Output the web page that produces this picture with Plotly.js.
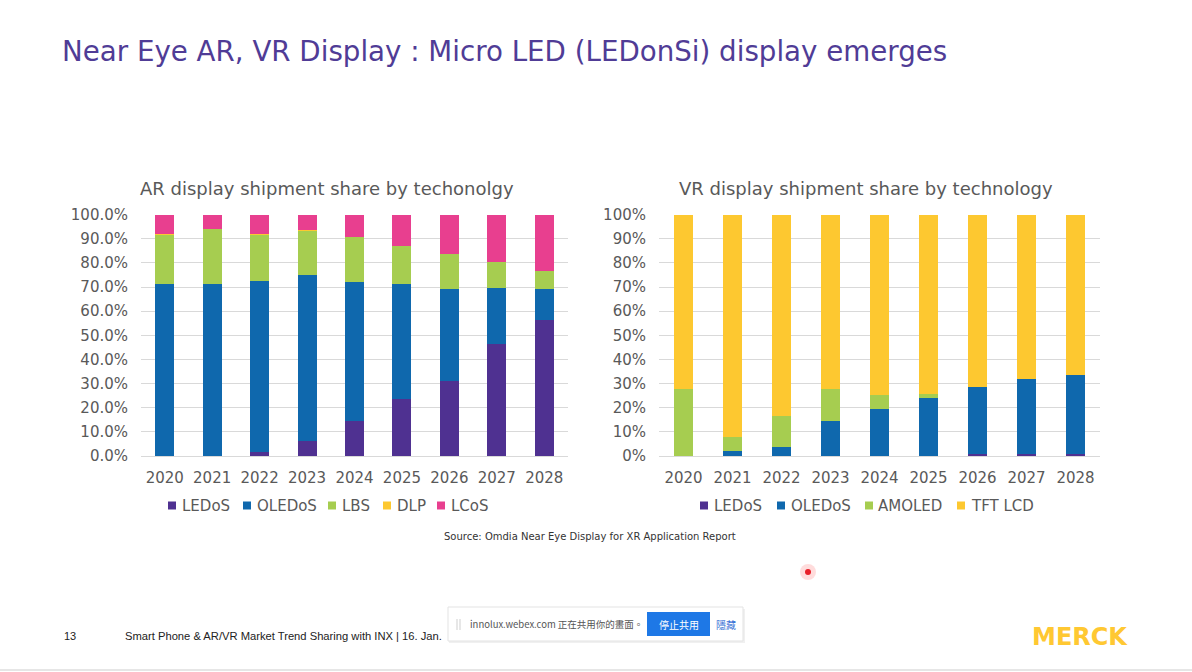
<!DOCTYPE html>
<html>
<head>
<meta charset="utf-8">
<script src="https://cdn.plot.ly/plotly-3.0.1.min.js"></script>
<style>html,body{margin:0;padding:0;background:#fff;}#chart{width:1192px;height:672px;}</style>
</head>
<body>
<div id="chart"></div>
<script>
const years = ["2020","2021","2022","2023","2024","2025","2026","2027","2028"];
const arNames = ["LEDoS","OLEDoS","LBS","DLP","LCoS"];
const vrNames = ["LEDoS","OLEDoS","AMOLED","TFT LCD"];
// AR display shipment share (%)
const arLEDoS  = [0, 0, 1.8, 6.1, 14.6, 23.8, 31.2, 46.5, 56.5];
const arOLEDoS = [71.3, 71.3, 70.7, 68.9, 57.5, 47.5, 37.9, 23.1, 12.7];
const arLBS    = [20.3, 22.6, 19.1, 18.4, 18.6, 15.9, 14.6, 10.8, 7.6];
const arDLP    = [0.3, 0.3, 0.3, 0.2, 0.1, 0, 0, 0, 0];
const arLCoS   = [8.1, 5.8, 8.1, 6.4, 9.2, 12.8, 16.3, 19.6, 23.2];
// VR display shipment share (%)
const vrLEDoS  = [0, 0, 0, 0, 0.1, 0.2, 0.8, 0.9, 0.9];
const vrOLEDoS = [0, 2.2, 3.9, 14.4, 19.5, 24.0, 27.9, 31.0, 32.8];
const vrAMOLED = [27.9, 5.7, 12.7, 13.2, 5.8, 1.6, 0, 0, 0];
const vrTFTLCD = [72.1, 92.1, 83.4, 72.4, 74.6, 74.2, 71.3, 68.1, 66.3];
// tick labels
const tickVals = [0,10,20,30,40,50,60,70,80,90,100];
const arTickText = ["0.0%","10.0%","20.0%","30.0%","40.0%","50.0%","60.0%","70.0%","80.0%","90.0%","100.0%"];
const vrTickText = ["0%","10%","20%","30%","40%","50%","60%","70%","80%","90%","100%"];

const arSeries = [arLEDoS, arOLEDoS, arLBS, arDLP, arLCoS];
const vrSeries = [vrLEDoS, vrOLEDoS, vrAMOLED, vrTFTLCD];

const arColors = ["#4f3191","#0f68ad","#a6cd50","#fdc830","#e83f8f"];
const vrColors = ["#4f3191","#0f68ad","#a6cd50","#fdc830"];
const FONT = "DejaVu Sans, Verdana, sans-serif";

const W = 1192, H = 672;
const px = v => v / W, py = v => 1 - v / H;

const data = [];
arNames.forEach((n,i) => data.push({type:"bar", name:n, x:years, y:arSeries[i], xaxis:"x", yaxis:"y",
  marker:{color:arColors[i], line:{width:0}}, showlegend:false}));
vrNames.forEach((n,i) => data.push({type:"bar", name:n, x:years, y:vrSeries[i], xaxis:"x2", yaxis:"y2",
  marker:{color:vrColors[i], line:{width:0}}, showlegend:false}));

const axX = (dom) => ({domain:dom, type:"category", showgrid:false, zeroline:false,
  showline:true, linecolor:"#d9d9d9", linewidth:1, ticks:"", ticklabelstandoff:8,
  tickfont:{family:FONT, size:15, color:"#595959"}, fixedrange:true});
const axY = (txt, anchor) => ({domain:[py(456), py(214.7)], range:[0,100], anchor:anchor,
  tickmode:"array", tickvals:tickVals, ticktext:txt, ticklabelstandoff:12,
  showgrid:true, gridcolor:"#d9d9d9", gridwidth:1, zeroline:false, showline:false,
  tickfont:{family:FONT, size:15, color:"#595959"}, ticks:"", fixedrange:true});

// legend layout (positions in page pixels)
const arLegendX = [168, 243, 328, 383, 437];
const vrLegendX = [700, 777, 865, 957];
const legendY = 505.5;

const annotations = [
  {text:"Near Eye AR, VR Display : Micro LED (LEDonSi) display emerges", x:px(60), y:py(52),
   xanchor:"left", font:{family:FONT, size:27.7, color:"#503c96"}},
  {text:"AR display shipment share by techonolgy", x:px(138), y:py(188),
   xanchor:"left", font:{family:FONT, size:18, color:"#595959"}},
  {text:"VR display shipment share by technology", x:px(677), y:py(188),
   xanchor:"left", font:{family:FONT, size:18, color:"#595959"}},
  {text:"Source: Omdia Near Eye Display for XR Application Report", x:px(442), y:py(536),
   xanchor:"left", font:{family:FONT, size:10, color:"#333333"}},
  {text:"13", x:px(62), y:py(636), xanchor:"left",
   font:{family:"Liberation Sans Narrow, Liberation Sans, sans-serif", size:11, color:"#222"}},
  {text:"Smart Phone &amp; AR/VR Market Trend Sharing with INX | 16. Jan.", x:px(123), y:py(636),
   xanchor:"left", font:{family:"Liberation Sans Narrow, Liberation Sans, sans-serif", size:11.2, color:"#222"}},
  {text:"innolux.webex.com 正在共用你的畫面。", x:px(468), y:py(624), xanchor:"left",
   font:{family:"Noto Sans CJK TC, Noto Sans, sans-serif", size:9.5, color:"#555"}},
  {text:"停止共用", x:px(678.5), y:py(624), xanchor:"center",
   font:{family:"Noto Sans CJK TC, sans-serif", size:10, color:"#ffffff"}},
  {text:"隱藏", x:px(726), y:py(624), xanchor:"center",
   font:{family:"Noto Sans CJK TC, sans-serif", size:10, color:"#3b73d6"}},
  {text:"<b>MERCK</b>", x:px(1080), y:py(637), xanchor:"center",
   font:{family:"DejaVu Sans, sans-serif", size:24, color:"#ffc832"}}
];
const shapes = [
  {type:"rect", x0:px(449), x1:px(745), y0:py(643), y1:py(609), fillcolor:"rgba(0,0,0,0.06)", line:{width:0}},
  {type:"rect", x0:px(448), x1:px(743), y0:py(641), y1:py(607), fillcolor:"#ffffff", line:{color:"#e3e3e3", width:1}},
  {type:"line", x0:px(457), x1:px(457), y0:py(630), y1:py(619), line:{color:"#cfcfcf", width:1}},
  {type:"line", x0:px(460), x1:px(460), y0:py(630), y1:py(619), line:{color:"#cfcfcf", width:1}},
  {type:"rect", x0:px(647), x1:px(710), y0:py(636), y1:py(612), fillcolor:"#1e78e6", line:{width:0}},
  {type:"circle", x0:px(800), x1:px(816), y0:py(580), y1:py(564), fillcolor:"rgba(255,60,60,0.18)", line:{width:0}},
  {type:"circle", x0:px(805), x1:px(811), y0:py(575), y1:py(569), fillcolor:"#e8202a", line:{width:0}},
  {type:"line", x0:0, x1:1, y0:py(670), y1:py(670), line:{color:"#e6e6e6", width:2}}
];
function addLegend(names, colors, xs) {
  names.forEach((n,i) => {
    shapes.push({type:"rect", x0:px(xs[i]), x1:px(xs[i]+8), y0:py(legendY+4), y1:py(legendY-4),
      fillcolor:colors[i], line:{width:0}});
    annotations.push({text:n, x:px(xs[i]+11.5), y:py(legendY), xanchor:"left",
      font:{family:FONT, size:15, color:"#595959"}});
  });
}
addLegend(arNames, arColors, arLegendX);
addLegend(vrNames, vrColors, vrLegendX);
annotations.forEach(a => { a.xref="paper"; a.yref="paper"; a.showarrow=false; if(!a.yanchor) a.yanchor="middle"; });
shapes.forEach(s => { s.xref="paper"; s.yref="paper"; });

const layout = {
  width:W, height:H, margin:{l:0,r:0,t:0,b:0}, paper_bgcolor:"#fff", plot_bgcolor:"rgba(0,0,0,0)",
  barmode:"stack", bargap:0.6, showlegend:false, font:{family:FONT, color:"#595959"},
  xaxis:axX([px(141), px(568)]),
  yaxis:axY(arTickText,"x"),
  xaxis2:Object.assign(axX([px(659), px(1100)]), {anchor:"y2"}),
  yaxis2:axY(vrTickText,"x2"),
  annotations:annotations, shapes:shapes
};

Plotly.newPlot("chart", data, layout, {displayModeBar:false, staticPlot:true});
</script>
</body>
</html>
